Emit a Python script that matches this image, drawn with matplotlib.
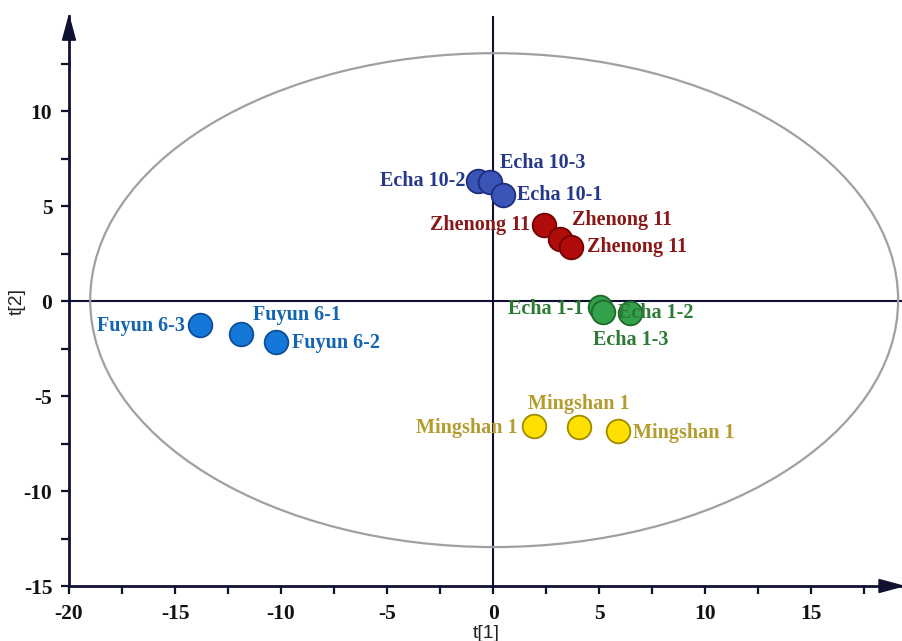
import numpy as np
import matplotlib
matplotlib.use("Agg")
import matplotlib.pyplot as plt
from matplotlib.patches import Ellipse, Polygon

plt.rcParams["axes.unicode_minus"] = False

# ---------------- data ----------------
groups = ["Echa 10", "Zhenong 11", "Echa 1", "Fuyun 6", "Mingshan 1"]
echa10_labels = ["Echa 10-2", "Echa 10-3", "Echa 10-1"]
echa10_t1 = [-0.69, -0.15, 0.46]
echa10_t2 = [6.33, 6.28, 5.58]
zhenong_labels = ["Zhenong 11", "Zhenong 11", "Zhenong 11"]
zhenong_t1 = [2.42, 3.16, 3.66]
zhenong_t2 = [4.00, 3.25, 2.86]
echa1_labels = ["Echa 1-1", "Echa 1-3", "Echa 1-2"]
echa1_t1 = [5.02, 5.18, 6.46]
echa1_t2 = [-0.30, -0.56, -0.65]
fuyun_labels = ["Fuyun 6-3", "Fuyun 6-1", "Fuyun 6-2"]
fuyun_t1 = [-13.82, -11.90, -10.25]
fuyun_t2 = [-1.26, -1.75, -2.14]
mingshan_labels = ["Mingshan 1", "Mingshan 1", "Mingshan 1"]
mingshan_t1 = [1.93, 4.06, 5.88]
mingshan_t2 = [-6.58, -6.65, -6.84]

ellipse_a = 19.05   # Hotelling T2 ellipse semi-axes
ellipse_b = 13.0

x_ticks = [-20, -15, -10, -5, 0, 5, 10, 15]
y_ticks = [-15, -10, -5, 0, 5, 10]

# ---------------- styling ----------------
fill_colors = ["#3a55b5", "#b00c0c", "#33a04a", "#1577d8", "#ffe000"]
edge_colors = ["#1e2d80", "#720000", "#1c6a2d", "#0b4f9c", "#a08a00"]
text_colors = ["#26388c", "#8a1717", "#2c7a33", "#1465b0", "#b39c2e"]

# label offsets in pixels (dx, dy) and horizontal alignment
offsets = {
    "Echa 10": [(-13, 0, "right"), (10, 19, "left"), (14, 0, "left")],
    "Zhenong 11": [(-14, 0, "right"), (12, 19, "left"), (16, 0, "left")],
    "Echa 1": [(-16, -2, "right"), (-10, -28, "left"), (-12, 0, "left")],
    "Fuyun 6": [(-15, -1, "right"), (12, 19, "left"), (16, -1, "left")],
    "Mingshan 1": [(-17, -2, "right"), (0, 23, "center"), (15, -2, "left")],
}

data = [
    ("Echa 10", echa10_t1, echa10_t2, echa10_labels),
    ("Zhenong 11", zhenong_t1, zhenong_t2, zhenong_labels),
    ("Echa 1", echa1_t1, echa1_t2, echa1_labels),
    ("Fuyun 6", fuyun_t1, fuyun_t2, fuyun_labels),
    ("Mingshan 1", mingshan_t1, mingshan_t2, mingshan_labels),
]

serif = "Liberation Serif"
axis_col = "#101030"

fig = plt.figure(figsize=(9.03, 6.41), dpi=100)
ax_w, ax_h = 0.9236, 0.889
ax = fig.add_axes([0.0764, 0.0858, ax_w, ax_h])
xmin, xmax = -20, 19.33
ymin, ymax = -15, 15.0
ax.set_xlim(xmin, xmax)
ax.set_ylim(ymin, ymax)

for s in ["top", "right"]:
    ax.spines[s].set_visible(False)
for s in ["left", "bottom"]:
    ax.spines[s].set_color(axis_col)
    ax.spines[s].set_linewidth(2.0)

ax.set_xticks(x_ticks)
ax.set_yticks(y_ticks)
ax.set_xticks(np.arange(-17.5, 19, 5), minor=True)
ax.set_yticks(np.arange(-12.5, 15, 5), minor=True)
ax.tick_params(axis="both", which="both", direction="out", length=6, width=1.6, color=axis_col)
ax.tick_params(axis="x", which="major", pad=7)
ax.tick_params(axis="y", which="major", pad=6)
for lab in ax.get_xticklabels() + ax.get_yticklabels():
    lab.set_fontfamily(serif)
    lab.set_fontweight("bold")
    lab.set_fontsize(15.5)
    lab.set_color("#111111")

ax.set_xlabel("t[1]", fontsize=14, family="Liberation Sans", labelpad=1, color="#222222")
ax.set_ylabel("t[2]", fontsize=14, family="Liberation Sans", color="#222222")
ax.yaxis.set_label_coords(-43 / (ax_w * 903), 0.5)

# zero lines
ax.axhline(0, color=axis_col, lw=1.5, zorder=1)
ax.axvline(0, color=axis_col, lw=1.5, zorder=1)

# ellipse
ax.add_patch(Ellipse((0.05, 0.05), 2 * ellipse_a, 2 * ellipse_b, fill=False,
                     edgecolor="#a0a0a0", lw=1.6, zorder=1))

# arrow heads
px_x = (xmax - xmin) / (ax_w * 903)
px_y = (ymax - ymin) / (ax_h * 641)
ax.add_patch(Polygon([[xmax, ymin], [xmax - 24 * px_x, ymin + 6.5 * px_y],
                      [xmax - 24 * px_x, ymin - 6.5 * px_y]], closed=True,
                     color=axis_col, clip_on=False, zorder=5))
ax.add_patch(Polygon([[xmin, ymax], [xmin - 6.5 * px_x, ymax - 24 * px_y],
                      [xmin + 6.5 * px_x, ymax - 24 * px_y]], closed=True,
                     color=axis_col, clip_on=False, zorder=5))

# points and labels
for gi, (g, xs, ys, labs) in enumerate(data):
    ax.scatter(xs, ys, s=290, c=fill_colors[gi], edgecolors=edge_colors[gi],
               linewidths=1.3, zorder=3)
    for k, (x, y, t) in enumerate(zip(xs, ys, labs)):
        dx, dy, ha = offsets[g][k]
        ax.annotate(t, (x, y), xytext=(dx, dy), textcoords="offset pixels",
                    ha=ha, va="center", fontsize=14.5, fontweight="bold",
                    family=serif, color=text_colors[gi], zorder=4)

fig.savefig("out.png", dpi=100)
